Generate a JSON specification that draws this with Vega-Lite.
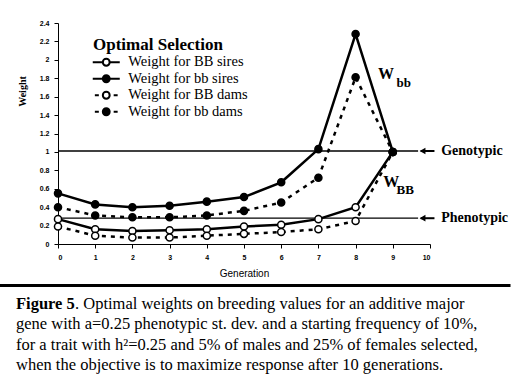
{
  "$schema": "https://vega.github.io/schema/vega-lite/v6.json",
  "background": "white",
  "padding": {"left": 16, "top": 19, "right": 0, "bottom": 0},
  "spacing": 7,
  "columns": 1,
  "config": {
    "view": {"stroke": null},
    "axis": {"domainColor": "black", "tickColor": "black", "labelColor": "black", "titleColor": "black", "grid": false, "labelOverlap": false}
  },
  "concat": [
    {
      "width": 372,
      "height": 221,
      "data": {"values": [
        {"gen": 0, "series": "Weight for BB sires", "w": 0.27},
        {"gen": 1, "series": "Weight for BB sires", "w": 0.16},
        {"gen": 2, "series": "Weight for BB sires", "w": 0.14},
        {"gen": 3, "series": "Weight for BB sires", "w": 0.15},
        {"gen": 4, "series": "Weight for BB sires", "w": 0.16},
        {"gen": 5, "series": "Weight for BB sires", "w": 0.19},
        {"gen": 6, "series": "Weight for BB sires", "w": 0.21},
        {"gen": 7, "series": "Weight for BB sires", "w": 0.27},
        {"gen": 8, "series": "Weight for BB sires", "w": 0.40},
        {"gen": 9, "series": "Weight for BB sires", "w": 1.0},
        {"gen": 0, "series": "Weight for BB dams", "w": 0.19},
        {"gen": 1, "series": "Weight for BB dams", "w": 0.09},
        {"gen": 2, "series": "Weight for BB dams", "w": 0.07},
        {"gen": 3, "series": "Weight for BB dams", "w": 0.07},
        {"gen": 4, "series": "Weight for BB dams", "w": 0.09},
        {"gen": 5, "series": "Weight for BB dams", "w": 0.11},
        {"gen": 6, "series": "Weight for BB dams", "w": 0.13},
        {"gen": 7, "series": "Weight for BB dams", "w": 0.16},
        {"gen": 8, "series": "Weight for BB dams", "w": 0.25},
        {"gen": 9, "series": "Weight for BB dams", "w": 1.0},
        {"gen": 0, "series": "Weight for bb sires", "w": 0.55},
        {"gen": 1, "series": "Weight for bb sires", "w": 0.43},
        {"gen": 2, "series": "Weight for bb sires", "w": 0.40},
        {"gen": 3, "series": "Weight for bb sires", "w": 0.415},
        {"gen": 4, "series": "Weight for bb sires", "w": 0.46},
        {"gen": 5, "series": "Weight for bb sires", "w": 0.51},
        {"gen": 6, "series": "Weight for bb sires", "w": 0.67},
        {"gen": 7, "series": "Weight for bb sires", "w": 1.03},
        {"gen": 8, "series": "Weight for bb sires", "w": 2.28},
        {"gen": 9, "series": "Weight for bb sires", "w": 1.0},
        {"gen": 0, "series": "Weight for bb dams", "w": 0.40},
        {"gen": 1, "series": "Weight for bb dams", "w": 0.31},
        {"gen": 2, "series": "Weight for bb dams", "w": 0.29},
        {"gen": 3, "series": "Weight for bb dams", "w": 0.29},
        {"gen": 4, "series": "Weight for bb dams", "w": 0.31},
        {"gen": 5, "series": "Weight for bb dams", "w": 0.36},
        {"gen": 6, "series": "Weight for bb dams", "w": 0.45},
        {"gen": 7, "series": "Weight for bb dams", "w": 0.72},
        {"gen": 8, "series": "Weight for bb dams", "w": 1.81},
        {"gen": 9, "series": "Weight for bb dams", "w": 1.0}
      ]},
      "layer": [
        {
          "transform": [{"filter": "indexof(datum.series, 'sires') >= 0"}],
          "mark": {"type": "line", "color": "black", "strokeWidth": 2.5},
          "encoding": {
            "x": {"field": "gen", "type": "quantitative", "scale": {"domain": [0, 10], "nice": false},
              "axis": {"values": [0,1,2,3,4,5,6,7,8,9,10], "tickCount": 30, "format": "d", "labelOverlap": false, "labelFont": "Liberation Sans", "labelFontSize": 7, "labelFontWeight": "bold", "tickSize": 4, "labelPadding": 5,
                "title": "Generation", "titleFont": "Liberation Sans", "titleFontSize": 10, "titleFontWeight": "normal", "titlePadding": 8}},
            "y": {"field": "w", "type": "quantitative", "scale": {"domain": [0, 2.4], "nice": false},
              "axis": {"values": [0,0.2,0.4,0.6,0.8,1,1.2,1.4,1.6,1.8,2,2.2,2.4], "tickCount": 30, "labelOverlap": false, "format": "~g", "labelFont": "Liberation Sans", "labelFontSize": 7, "labelFontWeight": "bold", "tickSize": 4, "labelPadding": 5,
                "title": "Weight", "titleFont": "Liberation Serif", "titleFontSize": 10, "titleFontWeight": "bold", "titleX": -31, "titleY": 68}},
            "detail": {"field": "series", "type": "nominal"}
          }
        },
        {
          "transform": [{"filter": "indexof(datum.series, 'dams') >= 0"}],
          "mark": {"type": "line", "color": "black", "strokeWidth": 2.5, "strokeDash": [4, 5]},
          "encoding": {
            "x": {"field": "gen", "type": "quantitative"},
            "y": {"field": "w", "type": "quantitative"},
            "detail": {"field": "series", "type": "nominal"}
          }
        },
        {
          "data": {"values": [{"label": "Genotypic", "y": 1.01}, {"label": "Phenotypic", "y": 0.28}]},
          "mark": {"type": "rule", "color": "black", "strokeWidth": 1.3},
          "encoding": {
            "x": {"datum": 0, "type": "quantitative"},
            "x2": {"datum": 9.68},
            "y": {"field": "y", "type": "quantitative"}
          }
        },
        {
          "data": {"values": [{"label": "Genotypic", "y": 1.01}, {"label": "Phenotypic", "y": 0.28}]},
          "mark": {"type": "rule", "color": "black", "strokeWidth": 2},
          "encoding": {
            "x": {"datum": 9.75, "type": "quantitative"},
            "x2": {"datum": 10.12},
            "y": {"field": "y", "type": "quantitative"}
          }
        },
        {
          "data": {"values": [{"label": "Genotypic", "y": 1.01}, {"label": "Phenotypic", "y": 0.28}]},
          "mark": {"type": "point", "shape": "triangle-left", "filled": true, "color": "black", "size": 45, "opacity": 1},
          "encoding": {
            "x": {"datum": 9.8, "type": "quantitative"},
            "y": {"field": "y", "type": "quantitative"}
          }
        },
        {
          "data": {"values": [{"label": "Genotypic", "y": 1.01}, {"label": "Phenotypic", "y": 0.28}]},
          "mark": {"type": "text", "align": "left", "baseline": "middle", "font": "Liberation Serif", "fontSize": 14, "fontWeight": "bold", "color": "black"},
          "encoding": {
            "x": {"datum": 10.3, "type": "quantitative"},
            "y": {"field": "y", "type": "quantitative"},
            "text": {"field": "label"}
          }
        },
        {
          "mark": {"type": "point", "filled": true, "stroke": "black", "strokeWidth": 1.5, "size": 50, "opacity": 1},
          "encoding": {
            "x": {"field": "gen", "type": "quantitative"},
            "y": {"field": "w", "type": "quantitative"},
            "color": {"field": "series", "type": "nominal",
              "scale": {"domain": ["Weight for BB sires", "Weight for BB dams", "Weight for bb sires", "Weight for bb dams"], "range": ["white", "white", "black", "black"]},
              "legend": null}
          }
        },
        {
          "data": {"values": [
            {"entry": "Weight for BB sires"},
            {"entry": "Weight for bb sires"},
            {"entry": "Weight for BB dams"},
            {"entry": "Weight for bb dams"}
          ]},
          "transform": [{"filter": "false"}],
          "mark": {"type": "point", "filled": true, "stroke": "black", "strokeWidth": 2, "size": 130, "opacity": 1},
          "encoding": {
            "fill": {"field": "entry", "type": "nominal",
              "scale": {"domain": ["Weight for BB sires", "Weight for bb sires", "Weight for BB dams", "Weight for bb dams"], "range": ["white", "black", "white", "black"]},
              "legend": {"title": "Optimal Selection", "orient": "none", "legendX": 35, "legendY": 14, "padding": 0,
                "titleFont": "Liberation Serif", "titleFontSize": 17, "titleFontWeight": "bold", "titleColor": "black", "titlePadding": 1,
                "labelFont": "Liberation Serif", "labelFontSize": 14.5, "labelColor": "black", "labelOffset": 14.8, "symbolOffset": 6,
                "symbolSize": 130, "symbolStrokeWidth": 2, "symbolStrokeColor": "black", "symbolOpacity": 1, "rowPadding": 0.5}},
            "stroke": {"field": "entry", "type": "nominal",
              "scale": {"domain": ["Weight for BB sires", "Weight for bb sires", "Weight for BB dams", "Weight for bb dams"], "range": ["black", "black", "black", "black"]},
              "legend": {"title": "Optimal Selection", "orient": "none", "legendX": 35, "legendY": 14, "padding": 0,
                "titleFont": "Liberation Serif", "titleFontSize": 17, "titleFontWeight": "bold", "titleColor": "black", "titlePadding": 1,
                "labelFont": "Liberation Serif", "labelFontSize": 14.5, "labelColor": "black", "labelOffset": 14.8, "symbolOffset": 6,
                "symbolSize": 130, "symbolStrokeWidth": 2, "symbolStrokeColor": "black", "symbolOpacity": 1, "rowPadding": 0.5}},
            "shape": {"field": "entry", "type": "nominal",
              "scale": {"domain": ["Weight for BB sires", "Weight for bb sires", "Weight for BB dams", "Weight for bb dams"],
                "range": [
                  "M-2.37,0H-0.6M0.6,0H2.37M0.6,0A0.6,0.6,0,1,1,-0.6,0A0.6,0.6,0,1,1,0.6,0Z",
                  "M-2.37,0H-0.6M0.6,0H2.37M0.6,0A0.6,0.6,0,1,1,-0.6,0A0.6,0.6,0,1,1,0.6,0Z",
                  "M-2,0H-1.3M1.3,0H2M0.6,0A0.6,0.6,0,1,1,-0.6,0A0.6,0.6,0,1,1,0.6,0Z",
                  "M-2,0H-1.3M1.3,0H2M0.6,0A0.6,0.6,0,1,1,-0.6,0A0.6,0.6,0,1,1,0.6,0Z"
                ]},
              "legend": {"title": "Optimal Selection", "orient": "none", "legendX": 35, "legendY": 14, "padding": 0,
                "titleFont": "Liberation Serif", "titleFontSize": 17, "titleFontWeight": "bold", "titleColor": "black", "titlePadding": 1,
                "labelFont": "Liberation Serif", "labelFontSize": 14.5, "labelColor": "black", "labelOffset": 14.8, "symbolOffset": 6,
                "symbolSize": 130, "symbolStrokeWidth": 2, "symbolStrokeColor": "black", "symbolOpacity": 1, "rowPadding": 0.5}}
          }
        },
        {
          "data": {"values": [{"t": "W"}]},
          "mark": {"type": "text", "align": "left", "baseline": "alphabetic", "font": "Liberation Serif", "fontSize": 16, "fontWeight": "bold", "color": "black"},
          "encoding": {"x": {"datum": 8.6, "type": "quantitative"}, "y": {"datum": 1.79, "type": "quantitative"}, "text": {"field": "t"}}
        },
        {
          "data": {"values": [{"t": "bb"}]},
          "mark": {"type": "text", "align": "left", "baseline": "alphabetic", "font": "Liberation Serif", "fontSize": 13, "fontWeight": "bold", "color": "black"},
          "encoding": {"x": {"datum": 9.1, "type": "quantitative"}, "y": {"datum": 1.7, "type": "quantitative"}, "text": {"field": "t"}}
        },
        {
          "data": {"values": [{"t": "W"}]},
          "mark": {"type": "text", "align": "left", "baseline": "alphabetic", "font": "Liberation Serif", "fontSize": 16, "fontWeight": "bold", "color": "black"},
          "encoding": {"x": {"datum": 8.74, "type": "quantitative"}, "y": {"datum": 0.62, "type": "quantitative"}, "text": {"field": "t"}}
        },
        {
          "data": {"values": [{"t": "BB"}]},
          "mark": {"type": "text", "align": "left", "baseline": "alphabetic", "font": "Liberation Serif", "fontSize": 13, "fontWeight": "bold", "color": "black"},
          "encoding": {"x": {"datum": 9.1, "type": "quantitative"}, "y": {"datum": 0.54, "type": "quantitative"}, "text": {"field": "t"}}
        }
      ]
    },
    {
      "width": 372,
      "height": 92,
      "layer": [
        {
          "data": {"values": [{"line": 1, "text": "Figure 5"}]},
          "mark": {"type": "text", "align": "left", "baseline": "alphabetic", "font": "Liberation Serif", "fontSize": 16.5, "fontWeight": "bold", "color": "black", "dx": 18},
          "encoding": {
            "x": {"datum": 0, "type": "quantitative", "scale": {"domain": [0, 1], "range": [-60, 452]},
              "axis": {"orient": "top", "domain": true, "domainWidth": 3, "domainColor": "black", "labels": false, "ticks": false, "grid": false, "title": null}},
            "y": {"field": "line", "type": "quantitative", "scale": {"domain": [1, 4], "range": [24, 85]}, "axis": null},
            "text": {"field": "text"}
          }
        },
        {
          "data": {"values": [{"line": 1, "text": ". Optimal weights on breeding values for an additive major"}]},
          "mark": {"type": "text", "align": "left", "baseline": "alphabetic", "font": "Liberation Serif", "fontSize": 16.5, "color": "black", "dx": 77},
          "encoding": {
            "x": {"datum": 0, "type": "quantitative"},
            "y": {"field": "line", "type": "quantitative"},
            "text": {"field": "text"}
          }
        },
        {
          "data": {"values": [
            {"line": 2, "text": "gene with a=0.25 phenotypic st. dev. and a starting frequency of 10%,"},
            {"line": 3, "text": "for a trait with h²=0.25 and 5% of males and 25% of females selected,"},
            {"line": 4, "text": "when the objective is to maximize response after 10 generations."}
          ]},
          "mark": {"type": "text", "align": "left", "baseline": "alphabetic", "font": "Liberation Serif", "fontSize": 16.5, "color": "black", "dx": 18},
          "encoding": {
            "x": {"datum": 0, "type": "quantitative"},
            "y": {"field": "line", "type": "quantitative"},
            "text": {"field": "text"}
          }
        }
      ]
    }
  ]
}
